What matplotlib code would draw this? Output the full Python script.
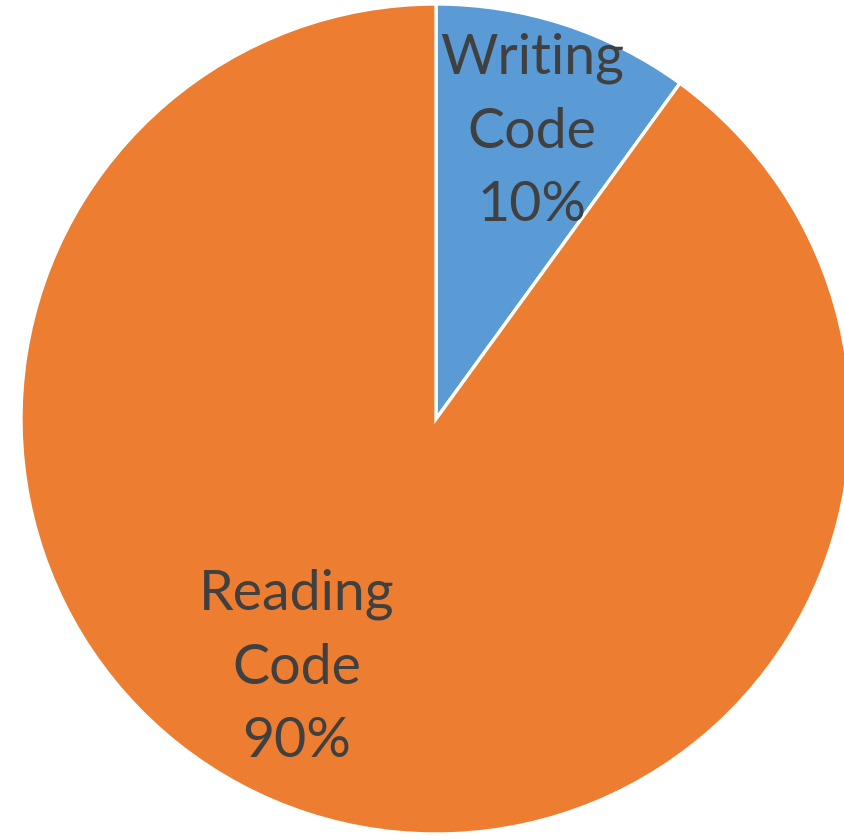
import matplotlib.pyplot as plt

labels = ["Writing\nCode", "Reading\nCode"]
shares = [10, 90]
colors = ["#5B9BD5", "#ED7D31"]

fig = plt.figure(figsize=(8.44, 8.40), dpi=100)
ax = fig.add_axes([0, 0, 1, 1])

ax.pie(shares, colors=colors, startangle=90, counterclock=False,
       wedgeprops=dict(edgecolor="white", linewidth=2.4))

# pie centre sits at pixel (436, 419) with a radius of 415 px; the right edge runs off the canvas
r_px = 415
ax.set_aspect("auto")
ax.set_xlim(-436 / r_px, (844 - 436) / r_px)
ax.set_ylim(-(840 - 419) / r_px, 419 / r_px)
ax.axis("off")

# label spots picked by hand, like the "best fit" placement
label_pos = [(96 / r_px, 287 / r_px), (-139 / r_px, -249 / r_px)]
for (x, y), lab, val in zip(label_pos, labels, shares):
    ax.text(x, y, f"{lab}\n{val}%", ha="center", va="center",
            fontsize=40, family="Lato", color="#404040", linespacing=1.55)

fig.savefig("out.png", dpi=100)
